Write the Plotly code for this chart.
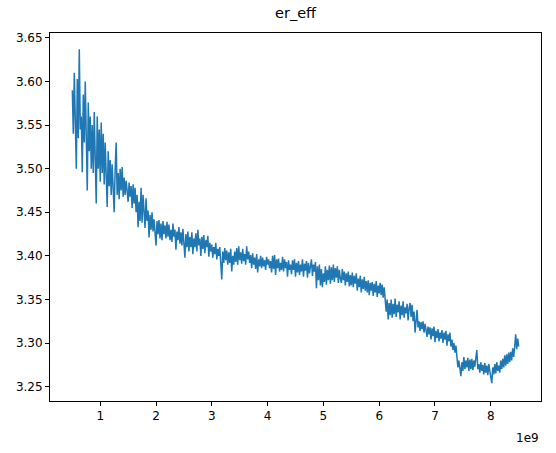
import numpy as np
import plotly.graph_objects as go

# Sample axis (frequency, Hz): uniform sweep from 0.5e9 to 8.5e9
x_start = 0.5e9
x_stop = 8.5e9

# er_eff values (noisy trace)
er_eff = [
    3.590, 3.540, 3.610, 3.545, 3.500, 3.603, 3.535, 3.637, 3.545, 3.560,
    3.496, 3.585, 3.530, 3.600, 3.540, 3.475, 3.576, 3.520, 3.560, 3.500,
    3.550, 3.495, 3.565, 3.505, 3.460, 3.560, 3.500, 3.545, 3.485, 3.553,
    3.495, 3.540, 3.482, 3.530, 3.490, 3.456, 3.520, 3.480, 3.510, 3.470,
    3.505, 3.462, 3.450, 3.500, 3.530, 3.470, 3.495, 3.465, 3.500, 3.475,
    3.502, 3.468, 3.490, 3.470, 3.486, 3.475, 3.462, 3.484, 3.468, 3.480,
    3.455, 3.482, 3.460, 3.478, 3.450, 3.470, 3.433, 3.462, 3.440, 3.478,
    3.438, 3.470, 3.445, 3.432, 3.466, 3.440, 3.452, 3.421, 3.447, 3.430,
    3.450, 3.428, 3.442, 3.426, 3.412, 3.440, 3.425, 3.441, 3.420, 3.437,
    3.418, 3.440, 3.425, 3.435, 3.420, 3.439, 3.422, 3.436, 3.418, 3.430,
    3.416, 3.437, 3.422, 3.430, 3.407, 3.428, 3.418, 3.433, 3.414, 3.427,
    3.412, 3.431, 3.418, 3.398, 3.425, 3.410, 3.428, 3.405, 3.422, 3.410,
    3.427, 3.402, 3.420, 3.410, 3.426, 3.405, 3.430, 3.412, 3.420, 3.400,
    3.422, 3.408, 3.424, 3.403, 3.418, 3.410, 3.423, 3.399, 3.415, 3.405,
    3.413, 3.398, 3.410, 3.402, 3.415, 3.396, 3.408, 3.400, 3.410, 3.395,
    3.373, 3.405, 3.392, 3.409, 3.395, 3.406, 3.390, 3.404, 3.392, 3.408,
    3.382, 3.400, 3.390, 3.405, 3.393, 3.409, 3.390, 3.411, 3.395, 3.404,
    3.391, 3.408, 3.394, 3.402, 3.390, 3.411, 3.396, 3.405, 3.392, 3.401,
    3.386, 3.403, 3.390, 3.398, 3.385, 3.402, 3.381, 3.396, 3.388, 3.400,
    3.386, 3.398, 3.388, 3.395, 3.384, 3.399, 3.390, 3.396, 3.386, 3.394,
    3.381, 3.400, 3.385, 3.401, 3.378, 3.396, 3.386, 3.397, 3.382, 3.392,
    3.384, 3.399, 3.382, 3.396, 3.386, 3.393, 3.376, 3.395, 3.384, 3.390,
    3.379, 3.395, 3.384, 3.396, 3.376, 3.392, 3.381, 3.394, 3.378, 3.390,
    3.382, 3.396, 3.376, 3.391, 3.383, 3.394, 3.375, 3.392, 3.380, 3.388,
    3.396, 3.377, 3.390, 3.382, 3.393, 3.363, 3.388, 3.372, 3.390, 3.366,
    3.385, 3.364, 3.380, 3.370, 3.388, 3.367, 3.384, 3.372, 3.389, 3.368,
    3.387, 3.372, 3.390, 3.370, 3.386, 3.375, 3.388, 3.369, 3.384, 3.374,
    3.369, 3.385, 3.372, 3.382, 3.366, 3.380, 3.370, 3.382, 3.365, 3.378,
    3.366, 3.381, 3.364, 3.377, 3.368, 3.380, 3.360, 3.374, 3.364, 3.377,
    3.358, 3.373, 3.362, 3.376, 3.360, 3.371, 3.358, 3.372, 3.355, 3.369,
    3.360, 3.370, 3.354, 3.368, 3.358, 3.371, 3.353, 3.366, 3.357, 3.369,
    3.355, 3.367, 3.352, 3.364, 3.345, 3.336, 3.350, 3.327, 3.346, 3.332,
    3.350, 3.329, 3.345, 3.333, 3.351, 3.330, 3.344, 3.335, 3.348, 3.327,
    3.343, 3.332, 3.348, 3.329, 3.341, 3.334, 3.345, 3.326, 3.340, 3.346,
    3.330, 3.344, 3.325, 3.336, 3.312, 3.328, 3.338, 3.318, 3.325, 3.314,
    3.324, 3.316, 3.325, 3.312, 3.322, 3.315, 3.307, 3.319, 3.310, 3.318,
    3.304, 3.317, 3.308, 3.319, 3.301, 3.314, 3.306, 3.316, 3.302, 3.312,
    3.305, 3.315, 3.300, 3.312, 3.304, 3.314, 3.297, 3.310, 3.302, 3.312,
    3.296, 3.304, 3.292, 3.300, 3.289, 3.297, 3.284, 3.272, 3.280, 3.266,
    3.262, 3.278, 3.268, 3.284, 3.270, 3.280, 3.272, 3.283, 3.268, 3.281,
    3.270, 3.282, 3.269, 3.280, 3.273, 3.283, 3.292, 3.270, 3.276, 3.266,
    3.278, 3.268, 3.275, 3.264, 3.277, 3.266, 3.274, 3.263, 3.276, 3.268,
    3.262, 3.254, 3.272, 3.264, 3.276, 3.265, 3.278, 3.268, 3.274, 3.266,
    3.280, 3.270, 3.282, 3.272, 3.286, 3.274, 3.287, 3.276, 3.289, 3.278,
    3.290, 3.280, 3.294, 3.284, 3.296, 3.310, 3.293, 3.305, 3.296,
]

freq = np.linspace(x_start, x_stop, len(er_eff))

x_tick_vals = [1e9, 2e9, 3e9, 4e9, 5e9, 6e9, 7e9, 8e9]
x_tick_text = ["1", "2", "3", "4", "5", "6", "7", "8"]
y_tick_vals = [3.25, 3.30, 3.35, 3.40, 3.45, 3.50, 3.55, 3.60, 3.65]

fig = go.Figure()
fig.add_trace(go.Scatter(
    x=freq, y=er_eff, mode="lines",
    line=dict(color="#1f77b4", width=1.5),
    showlegend=False, hoverinfo="skip",
))

font = dict(family="DejaVu Sans", size=12, color="black")

fig.update_layout(
    width=556, height=453,
    margin=dict(l=50, r=14.5, t=33, b=52),
    paper_bgcolor="white", plot_bgcolor="white",
    font=font,
    xaxis=dict(
        range=[0.1e9, 8.9e9],
        tickvals=x_tick_vals, ticktext=x_tick_text,
        ticks="outside", ticklen=4, tickwidth=1, tickcolor="black",
        showline=True, linecolor="black", linewidth=1, mirror=True,
        showgrid=False, zeroline=False, tickfont=font,
    ),
    yaxis=dict(
        range=[3.2335, 3.6557],
        tickvals=y_tick_vals, tickformat=".2f",
        ticks="outside", ticklen=4, tickwidth=1, tickcolor="black",
        showline=True, linecolor="black", linewidth=1, mirror=True,
        showgrid=False, zeroline=False, tickfont=font,
    ),
    annotations=[
        dict(text="er_eff", xref="paper", yref="paper", x=0.5, y=1,
             xanchor="center", yanchor="bottom", yshift=10, showarrow=False,
             font=dict(family="DejaVu Sans", size=14.5, color="black")),
        dict(text="1e9", xref="paper", yref="paper", x=1, y=0,
             xanchor="right", yanchor="top", yshift=-28, showarrow=False,
             font=font),
    ],
)

fig.write_html("out.html", config={"displayModeBar": False},
               post_script="document.body.style.margin='0';")
